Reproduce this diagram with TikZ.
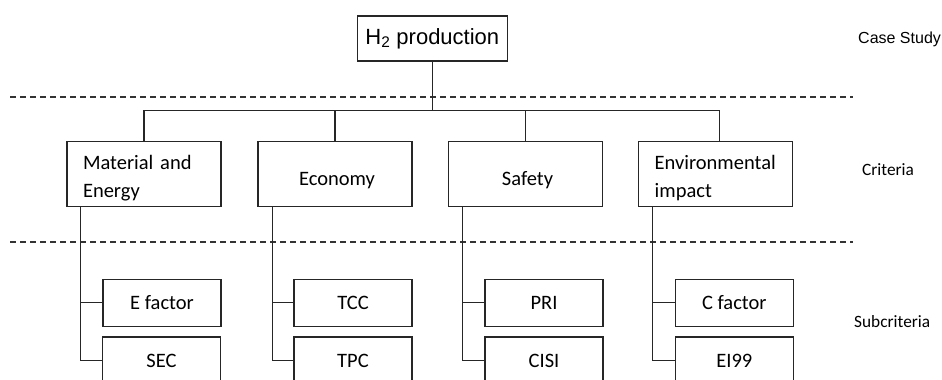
\documentclass[tikz,border=0pt]{standalone}
\usepackage{fontspec}
\setmainfont{Carlito}
\newfontfamily\arialfont{Liberation Sans}
\begin{document}
\begin{tikzpicture}[x=1pt,y=-1pt,
  lc/.style={draw=black!85,line width=1.1pt},
  topbox/.style={lc,rectangle,minimum width=150pt,minimum height=45pt,inner sep=0pt,
    font=\arialfont\fontsize{22}{26}\selectfont},
  critbox/.style={lc,rectangle,minimum width=154pt,minimum height=65pt,inner xsep=16pt,inner ysep=0pt,
    text width=122pt,align=left,font=\fontsize{20.5}{27.4}\selectfont},
  critc/.style={critbox,align=center},
  subbox/.style={lc,rectangle,minimum width=118pt,minimum height=47pt,inner sep=0pt,
    font=\fontsize{20.5}{24}\selectfont},
  sep/.style={draw=black!80,line width=1.5pt,dash pattern=on 6pt off 4pt},
  conn/.style={lc},
  lvl/.style={anchor=west,inner sep=0pt,font=\fontsize{17.3}{20}\selectfont}
]
\useasboundingbox (0,0) rectangle (942,380);

% separators
\coordinate (s1a) at (10,97);
\coordinate (s1b) at (853,97);
\coordinate (s2a) at (10,242);
\coordinate (s2b) at (853,242);
\draw[sep] (s1a) -- (s1b);
\draw[sep] (s2a) -- (s2b);

% level labels
\node[lvl,font=\arialfont\fontsize{16}{19}\selectfont] (lcase) at (858,39) {Case Study};
\node[lvl] (lcrit) at (862,170) {Criteria};
\node[lvl] (lsub) at (854,321.7) {Subcriteria};

% top
\node[topbox] (h2) at (432.3,38.5) {H\textsubscript{2} production};

% criteria
\node[critbox] (m) at (144,174) {\rule{0pt}{22.3pt}Material and\\Energy};
\node[critc] (eco) at (335,174) {\rule[-5pt]{0pt}{32pt}\hspace*{4pt}Economy};
\node[critc] (saf) at (525.5,174) {\rule[-5pt]{0pt}{32pt}\hspace*{4pt}Safety};
\node[critbox] (env) at (715.7,174) {\rule{0pt}{22.3pt}Environmental\\impact};

% subcriteria
\node[subbox] (ef) at (162,302.8) {E factor};
\node[subbox] (sec) at (161.5,360.5) {SEC};
\node[subbox] (tcc) at (353,302.8) {TCC};
\node[subbox] (tpc) at (353,360.5) {TPC};
\node[subbox] (pri) at (544,302.8) {PRI};
\node[subbox] (cisi) at (544,360.5) {CISI};
\node[subbox] (cf) at (734.3,302.8) {C factor};
\node[subbox] (ei) at (734.3,360.5) {EI99};

% tree connectors
\coordinate (hub) at (432.3,110.5);
\draw[conn] (h2.south) -- (hub);
\draw[conn] (hub) -| (m.north);
\draw[conn] (hub) -| (eco.north);
\draw[conn] (hub) -| (saf.north);
\draw[conn] (hub) -| ([xshift=4pt]env.north);

% spines
\coordinate (md) at ([xshift=14pt]m.south west);
\coordinate (ed) at ([xshift=15pt]eco.south west);
\coordinate (sd) at ([xshift=14.5pt]saf.south west);
\coordinate (vd) at ([xshift=14.7pt]env.south west);
\draw[conn] (md) |- (sec.west);
\draw[conn] (md) |- (ef.west);
\draw[conn] (ed) |- (tpc.west);
\draw[conn] (ed) |- (tcc.west);
\draw[conn] (sd) |- (cisi.west);
\draw[conn] (sd) |- (pri.west);
\draw[conn] (vd) |- (ei.west);
\draw[conn] (vd) |- (cf.west);
\end{tikzpicture}
\end{document}
